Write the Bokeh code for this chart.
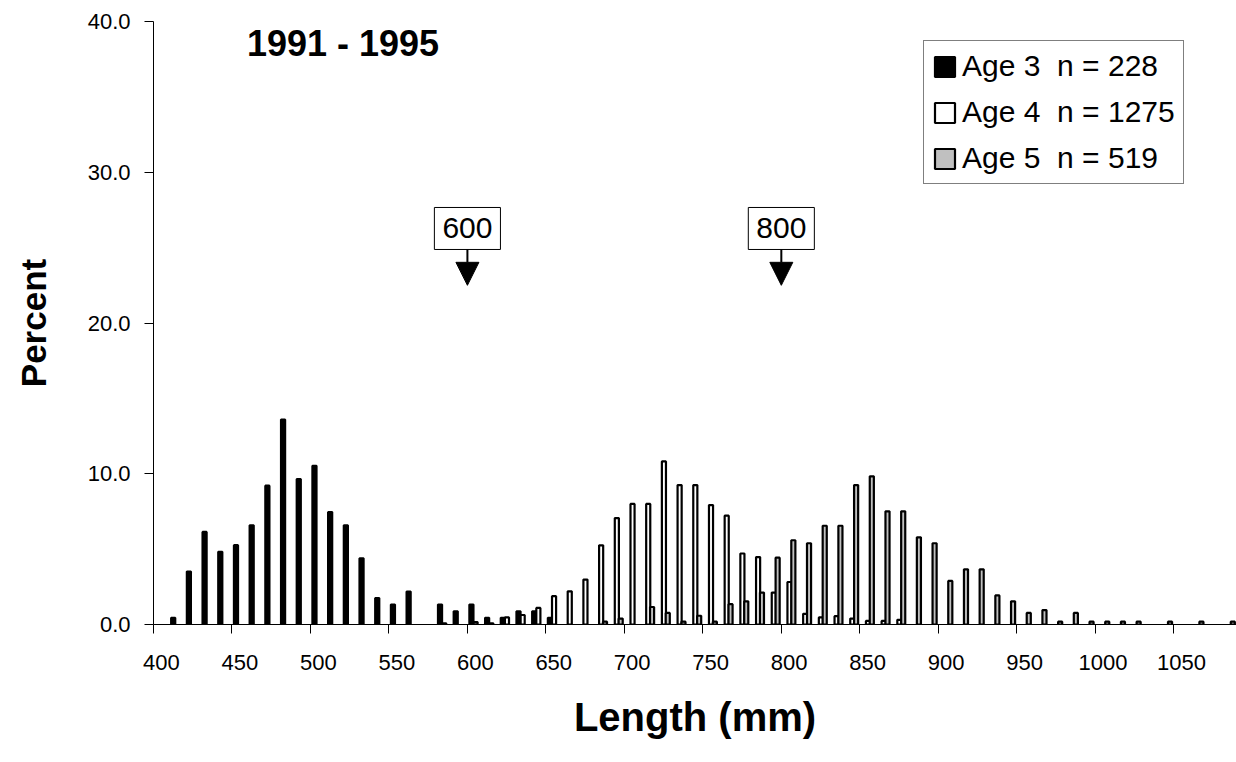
from bokeh.plotting import figure
from bokeh.models import (Range1d, FixedTicker, PrintfTickFormatter, Legend,
                          LegendItem, Label, Arrow, NormalHead)
from bokeh.embed import file_html
from bokeh.resources import INLINE

FONT = "Liberation Sans"

# Length classes (lower bound of each 10 mm class) and percent of fish per age group
age3_len = [410, 420, 430, 440, 450, 460, 470, 480, 490, 500, 510, 520, 530, 540,
            550, 560, 580, 590, 600, 610, 620, 630, 640, 650]
age3_pct = [0.44, 3.51, 6.14, 4.82, 5.26, 6.58, 9.21, 13.60, 9.65, 10.53, 7.46, 6.58,
            4.39, 1.75, 1.32, 2.19, 1.32, 0.88, 1.32, 0.44, 0.44, 0.88, 0.88, 0.44]

age4_len = [580, 600, 610, 620, 630, 640, 650, 660, 670, 680, 690, 700, 710, 720, 730,
            740, 750, 760, 770, 780, 790, 800, 810, 820, 830, 840, 850, 860, 870]
age4_pct = [0.08, 0.16, 0.08, 0.47, 0.63, 1.10, 1.88, 2.20, 2.98, 5.25, 7.06, 8.00,
            8.00, 10.82, 9.25, 9.25, 7.92, 7.22, 4.71, 4.47, 2.12, 2.82, 0.71, 0.47,
            0.55, 0.39, 0.24, 0.24, 0.31]

age5_len = [680, 690, 710, 720, 730, 740, 750, 760, 770, 780, 790, 800, 810, 820, 830,
            840, 850, 860, 870, 880, 890, 900, 910, 920, 930, 940, 950, 960, 970, 980,
            990, 1000, 1010, 1020, 1040, 1060, 1080]
age5_pct = [0.19, 0.39, 1.16, 0.77, 0.19, 0.58, 0.19, 1.35, 1.54, 2.12, 4.43, 5.59,
            5.39, 6.55, 6.55, 9.25, 9.83, 7.51, 7.51, 5.78, 5.39, 2.89, 3.66, 3.66,
            1.93, 1.54, 0.77, 0.96, 0.19, 0.77, 0.19, 0.19, 0.19, 0.19, 0.19, 0.19, 0.19]

series = [
    ("Age 3  n = 228", age3_len, age3_pct, "black", -2.45),
    ("Age 4  n = 1275", age4_len, age4_pct, "white", 0.2),
    ("Age 5  n = 519", age5_len, age5_pct, "#c0c0c0", 2.65),
]

tick_labels = ["400", "450", "500", "550", "600", "650", "700", "750", "800",
               "850", "900", "950", "1000", "1050"]
y_ticks = [0, 10, 20, 30, 40]
markers = [600, 800]

BIN = 10
BAR_W = 2.6

p = figure(width=1236, height=762,
           x_range=Range1d(400, 1090), y_range=Range1d(0, 40),
           output_backend="svg", toolbar_location=None,
           min_border_left=153, min_border_right=0,
           min_border_top=21, min_border_bottom=138)
p.outline_line_color = None
p.grid.visible = False
p.background_fill_color = "white"

renderers = []
for label, lens, pcts, color, off in series:
    xs = [l + BIN / 2 + off for l in lens]
    r = p.vbar(x=xs, top=pcts, bottom=0, width=BAR_W,
               fill_color=color, line_color="black", line_width=2.2)
    renderers.append((label, r))

# x axis: labels centred on each class, tick marks on class boundaries
label_pos = [int(t) + BIN / 2 for t in tick_labels]
xa = p.xaxis[0]
xa.ticker = FixedTicker(ticks=label_pos, minor_ticks=[int(t) for t in tick_labels])
xa.major_label_overrides = {pos: t for pos, t in zip(label_pos, tick_labels)}
xa.major_tick_line_color = None
xa.major_tick_out = 0
xa.major_tick_in = 0
xa.minor_tick_line_color = "black"
xa.minor_tick_out = 9
xa.minor_tick_in = 0
xa.minor_tick_line_width = 1
xa.axis_line_color = "black"
xa.major_label_text_font = FONT
xa.major_label_text_font_size = "22px"
xa.major_label_text_color = "black"
xa.major_label_standoff = 21
xa.axis_label = "Length (mm)"
xa.axis_label_text_font = FONT
xa.axis_label_text_font_style = "bold"
xa.axis_label_text_font_size = "40px"
xa.axis_label_text_color = "black"
xa.axis_label_standoff = 22

ya = p.yaxis[0]
ya.ticker = FixedTicker(ticks=y_ticks, minor_ticks=[])
ya.formatter = PrintfTickFormatter(format="%.1f")
ya.major_tick_out = 9
ya.major_tick_in = 0
ya.major_tick_line_color = "black"
ya.axis_line_color = "black"
ya.major_label_text_font = FONT
ya.major_label_text_font_size = "22px"
ya.major_label_text_color = "black"
ya.major_label_standoff = 14
ya.axis_label = "Percent"
ya.axis_label_text_font = FONT
ya.axis_label_text_font_style = "bold"
ya.axis_label_text_font_size = "35px"
ya.axis_label_text_color = "black"
ya.axis_label_standoff = 32

legend = Legend(items=[LegendItem(label=lab, renderers=[r]) for lab, r in renderers],
                location=(770, 440), orientation="vertical",
                label_text_font=FONT, label_text_font_size="30px",
                label_text_color="black",
                glyph_width=25, glyph_height=25, label_standoff=5,
                spacing=12, padding=8, margin=0,
                border_line_color="black", border_line_width=1,
                background_fill_color="white", background_fill_alpha=1)
p.add_layout(legend)

p.add_layout(Label(x=459.5, y=38.55, text="1991 - 1995", text_font=FONT,
                   text_font_style="bold", text_font_size="36px",
                   text_color="black", text_baseline="middle", text_align="left"))

for m in markers:
    p.add_layout(Label(x=m, y=26.27, text=str(m), text_font=FONT,
                       text_font_size="30px", text_color="black",
                       text_align="center", text_baseline="middle",
                       border_line_color="black", border_line_width=1,
                       background_fill_color="white", padding=(8, 11)))
    p.add_layout(Arrow(x_start=m, y_start=24.9, x_end=m, y_end=22.5,
                       line_color="black", line_width=2,
                       end=NormalHead(size=23, fill_color="black",
                                      line_color="black", line_width=1)))

open("out.html", "w").write(file_html(p, INLINE))
